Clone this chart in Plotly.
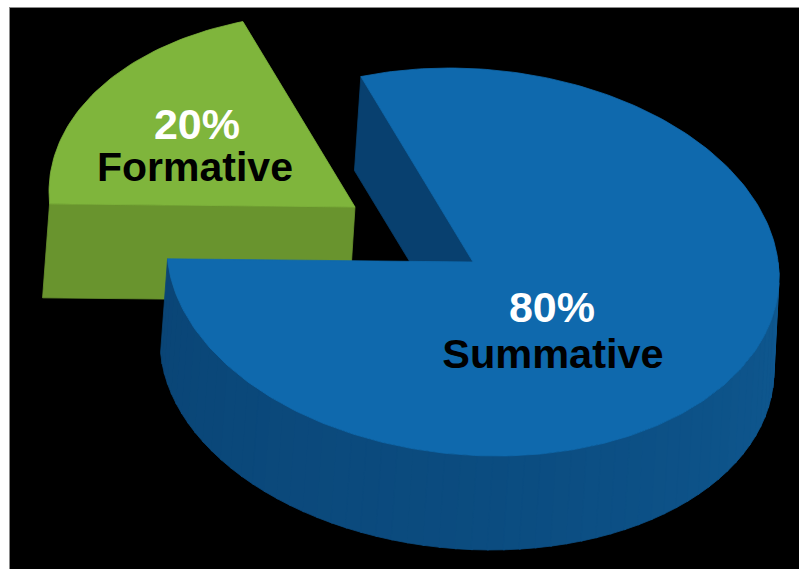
import numpy as np
import plotly.graph_objects as go

# ---- data ----
categories = ["Formative", "Summative"]
shares = [20, 80]

# ---- styles ----
TOP = {"Formative": "#7FB53C", "Summative": "#0F69AD"}
WALL = {"Formative": "#69942E", "Summative": "#08406F"}
RIM_LEFT = (10, 69, 118)
RIM_MID = (11, 76, 128)
RIM_RIGHT = (15, 88, 144)


def top_pt(t, off=(0, 0)):
    t = np.radians(t)
    return (473 + 306 * np.cos(t) + off[0],
            262 + 15 * np.cos(t) - 193.4 * np.sin(t) + off[1])


def bot_pt(t, off=(0, 0)):
    t = np.radians(t)
    return (467 + 307 * np.cos(t) + off[0],
            356 + 15 * np.cos(t) - 193.4 * np.sin(t) + off[1])


def poly(fig, xs, ys, color):
    fig.add_trace(go.Scatter(
        x=list(xs), y=list(ys), mode="lines", fill="toself", fillcolor=color,
        line=dict(color=color, width=0.8), hoverinfo="skip", showlegend=False))


def rim_color(f):
    a, b, u = (RIM_LEFT, RIM_MID, f / 0.5) if f < 0.5 else (RIM_MID, RIM_RIGHT, (f - 0.5) / 0.5)
    r, g, bl = [round(a[k] + (b[k] - a[k]) * u) for k in range(3)]
    return f"rgb({r},{g},{bl})"


total = sum(shares)
sweep = {c: 360 * s / total for c, s in zip(categories, shares)}
JOIN = 183.5                          # angle at which the two slices meet
green_start = JOIN - sweep["Formative"]
GREEN_OFF = (-118, -55)

fig = go.Figure()

# --- exploded Formative slice: cut wall then top face ---
tl = top_pt(JOIN, GREEN_OFF)
bl = bot_pt(JOIN, GREEN_OFF)
ctr_t = (473 + GREEN_OFF[0], 262 + GREEN_OFF[1])
ctr_b = (467 + GREEN_OFF[0], 356 + GREEN_OFF[1])
poly(fig, [tl[0], ctr_t[0], ctr_b[0], bl[0], tl[0]],
     [tl[1], ctr_t[1], ctr_b[1], bl[1], tl[1]], WALL["Formative"])
ts = np.linspace(green_start, JOIN, 60)
gx, gy = top_pt(ts, GREEN_OFF)
poly(fig, [ctr_t[0], *gx, ctr_t[0]], [ctr_t[1], *gy, ctr_t[1]], TOP["Formative"])

# --- Summative: inner wall ---
b0 = top_pt(green_start)
b1 = bot_pt(green_start)
poly(fig, [473, b0[0], b1[0], 467, 473], [262, b0[1], b1[1], 356, 262], WALL["Summative"])

# --- Summative: outer rim in fine bands ---
edges = np.linspace(JOIN, 360 + 4, 61)
for i in range(len(edges) - 1):
    seg = np.linspace(edges[i], edges[i + 1] + 0.3, 5)
    tx, ty = top_pt(seg)
    bx, by = bot_pt(seg)
    poly(fig, [*tx, *bx[::-1], tx[0]], [*ty, *by[::-1], ty[0]], rim_color(i / (len(edges) - 2)))

# --- Summative: top face ---
ts = np.linspace(JOIN, green_start + 360, 240)
sx, sy = top_pt(ts)
poly(fig, [473, *sx, 473], [262, *sy, 262], TOP["Summative"])

# --- labels ---
lab_x = {"Formative": 197, "Summative": 552}
lab_y = {"Formative": 128, "Summative": 311}
name_x = {"Formative": 195, "Summative": 553}
name_y = {"Formative": 171, "Summative": 358}
name_size = {"Formative": 41, "Summative": 41.5}
for c, s in zip(categories, shares):
    fig.add_trace(go.Scatter(
        x=[lab_x[c]], y=[lab_y[c]], mode="text", text=[f"<b>{s}%</b>"],
        textfont=dict(family="Liberation Sans", size=43, color="white"),
        textposition="middle center", hoverinfo="skip", showlegend=False))
    fig.add_trace(go.Scatter(
        x=[name_x[c]], y=[name_y[c]], mode="text", text=[f"<b>{c}</b>"],
        textfont=dict(family="Liberation Sans", size=name_size[c], color="black"),
        textposition="middle center", hoverinfo="skip", showlegend=False))

fig.update_layout(
    width=799, height=569, margin=dict(l=0, r=0, t=0, b=0),
    paper_bgcolor="white", plot_bgcolor="black", showlegend=False,
    xaxis=dict(domain=[10 / 799, 1], range=[10, 799], visible=True, showgrid=False,
               zeroline=False, showticklabels=False, ticks="", showline=True,
               linecolor="#8a8a8a", linewidth=1, side="top", fixedrange=True),
    yaxis=dict(domain=[0, 1 - 8 / 569], range=[569, 8], visible=True, showgrid=False,
               zeroline=False, showticklabels=False, ticks="", showline=True,
               linecolor="#8a8a8a", linewidth=1, fixedrange=True),
)
fig.write_html("out.html", config={"displayModeBar": False},
               post_script="document.body.style.margin='0';document.body.style.overflow='hidden';")
